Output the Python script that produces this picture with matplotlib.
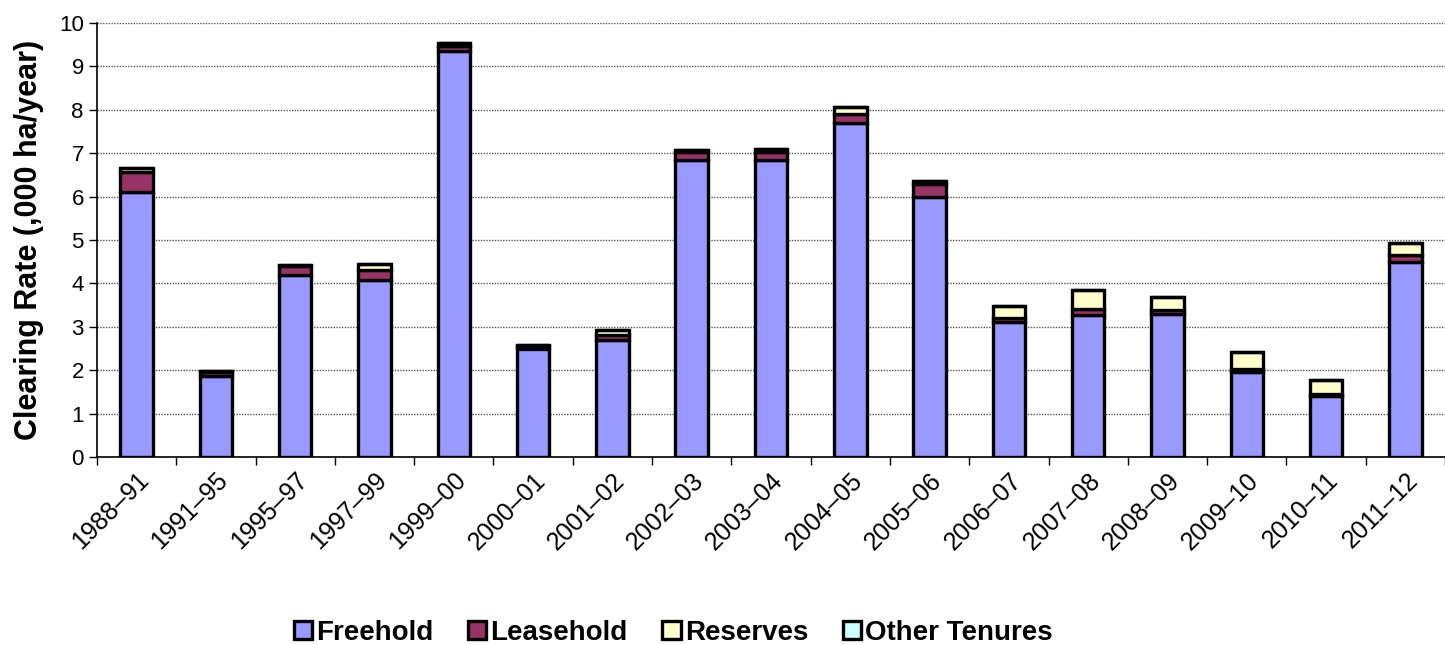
import numpy as np
import matplotlib.pyplot as plt

plt.rcParams['font.family'] = ['Liberation Sans', 'DejaVu Sans']

# Periodi e tassi di disboscamento (,000 ha/anno)
periods = ['1988–91', '1991–95', '1995–97', '1997–99', '1999–00', '2000–01',
           '2001–02', '2002–03', '2003–04', '2004–05', '2005–06', '2006–07',
           '2007–08', '2008–09', '2009–10', '2010–11', '2011–12']
freehold = [6.10, 1.87, 4.20, 4.07, 9.35, 2.50, 2.70, 6.85, 6.85, 7.70,
            6.00, 3.10, 3.28, 3.30, 1.97, 1.40, 4.50]
leasehold = [0.47, 0.10, 0.20, 0.25, 0.12, 0.05, 0.12, 0.17, 0.17, 0.20,
             0.28, 0.10, 0.14, 0.08, 0.06, 0.05, 0.15]
reserves = [0.09, 0.02, 0.03, 0.13, 0.07, 0.02, 0.10, 0.05, 0.07, 0.17,
            0.08, 0.27, 0.42, 0.30, 0.38, 0.32, 0.28]
other = [0.0] * 17

series = [('Freehold', freehold, '#9999FF'),
          ('Leasehold', leasehold, '#993366'),
          ('Reserves', reserves, '#FFFFCC'),
          ('Other Tenures', other, '#CCFFFF')]

fig = plt.figure(figsize=(14.45, 6.45), dpi=100)
ax = fig.add_axes([97 / 1445, 1 - 457 / 645, 1 - 97 / 1445, (457 - 23) / 645])

x = np.arange(len(periods))
bottom = np.zeros(len(periods))
for name, vals, col in series:
    ax.bar(x, vals, width=0.41, bottom=bottom, color=col, edgecolor='black',
           linewidth=2.4, label=name, zorder=3)
    bottom += np.array(vals)

ax.set_xlim(-0.5, len(periods) - 0.5)
ax.set_ylim(0, 10)
ax.set_yticks(range(0, 11))
ax.tick_params(axis='y', labelsize=16, direction='out', length=6, width=1)
ax.yaxis.grid(True, linestyle=(0, (1, 1)), color='#555555', linewidth=1, zorder=0)

ax.set_xticks(x)
ax.set_xticklabels(periods, rotation=45, ha='right', rotation_mode='anchor',
                   fontsize=18)
ax.tick_params(axis='x', which='major', length=0, pad=8)
ax.set_xticks(np.arange(-0.5, len(periods)), minor=True)
ax.tick_params(axis='x', which='minor', length=6, width=1, direction='out')

for s in ['top', 'right']:
    ax.spines[s].set_visible(False)
ax.spines['left'].set_linewidth(1.2)
ax.spines['bottom'].set_linewidth(1.2)

ax.set_ylabel('Clearing Rate (,000 ha/year)', fontsize=22, fontweight='bold',
              labelpad=11)

fig.legend(loc='lower center', bbox_to_anchor=(0.466, -0.04), ncol=4,
           frameon=False, prop={'size': 20, 'weight': 'bold'},
           handlelength=0.65, handleheight=0.65, handletextpad=0.15,
           columnspacing=1.25)

plt.savefig('out.png', dpi=100)
